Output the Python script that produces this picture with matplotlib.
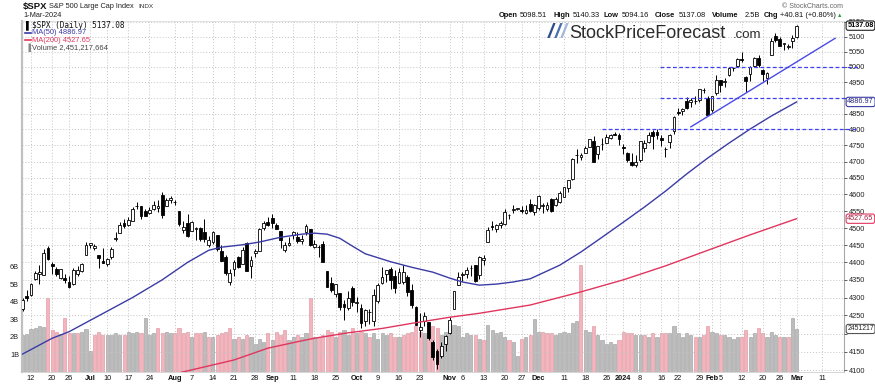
import numpy as np
import pandas as pd
import matplotlib
matplotlib.use('Agg')
import matplotlib.pyplot as plt
import matplotlib.transforms as mtransforms
from matplotlib.ticker import FixedLocator, NullLocator, FuncFormatter

plt.rcParams['font.family'] = ['Liberation Sans', 'DejaVu Sans']

# ---- data -------------------------------------------------------------
HOLIDAYS = ['2023-06-19', '2023-07-04', '2023-09-04', '2023-11-23',
            '2023-12-25', '2024-01-01', '2024-01-15', '2024-02-19']
FIRST_DAY, LAST_DAY = '2023-06-08', '2024-03-15'

opens = [4268.7, 4304.9, 4308.3, 4352.6, 4366.3, 4365.3, 4440.9, 4396.1, 4380.0, 4355.4,
         4354.2, 4344.8, 4337.4, 4367.5, 4374.9, 4422.4, 4450.5, 4442.0, 4422.6, 4404.5,
         4394.2, 4415.6, 4467.7, 4485.3, 4514.6, 4508.9, 4521.8, 4563.9, 4565.0, 4550.2,
         4543.4, 4555.2, 4558.0, 4598.3, 4565.8, 4584.8, 4578.8, 4550.9, 4494.3, 4514.0,
         4491.6, 4498.0, 4501.6, 4487.2, 4450.7, 4458.1, 4478.9, 4433.8, 4416.3, 4344.9,
         4380.3, 4415.3, 4396.4, 4455.2, 4389.4, 4426.0, 4432.8, 4500.3, 4517.0, 4530.6,
         4510.1, 4490.4, 4434.6, 4451.3, 4481.0, 4473.3, 4462.7, 4487.8, 4498.0, 4445.1,
         4445.4, 4452.8, 4374.4, 4341.7, 4310.6, 4312.9, 4282.6, 4269.7, 4328.2, 4284.5,
         4269.8, 4233.8, 4259.3, 4234.8, 4289.0, 4339.8, 4366.6, 4380.9, 4360.5, 4342.4,
         4345.2, 4357.4, 4321.4, 4273.9, 4210.4, 4235.8, 4232.4, 4176.0, 4152.9, 4139.4,
         4171.3, 4201.3, 4268.3, 4334.2, 4364.3, 4366.2, 4384.4, 4391.4, 4364.2, 4406.7,
         4459.0, 4505.3, 4497.1, 4509.6, 4511.7, 4538.8, 4553.0, 4555.8, 4554.9, 4545.6,
         4571.8, 4548.7, 4559.4, 4564.4, 4557.3, 4586.2, 4568.8, 4576.2, 4593.4, 4618.3,
         4646.2, 4721.0, 4714.2, 4725.6, 4743.7, 4764.7, 4724.3, 4753.9, 4758.9, 4773.5,
         4786.4, 4782.9, 4745.2, 4725.1, 4697.4, 4690.6, 4703.7, 4741.9, 4759.9, 4792.1,
         4791.2, 4772.4, 4739.1, 4760.1, 4796.3, 4853.4, 4856.8, 4888.6, 4886.7, 4888.9,
         4893.0, 4925.9, 4899.2, 4861.1, 4916.1, 4957.2, 4950.2, 4973.1, 4995.2, 5004.2,
         5026.8, 4967.9, 4976.4, 5003.1, 5031.1, 4989.3, 4963.0, 5038.8, 5100.9, 5093.0,
         5074.6, 5067.2, 5085.4, 5098.51]
highs = [4298.0, 4322.6, 4340.1, 4375.4, 4391.8, 4439.2, 4448.5, 4400.2, 4386.2, 4382.3,
         4366.6, 4362.1, 4384.4, 4390.4, 4398.4, 4458.5, 4456.5, 4454.1, 4422.6, 4440.4,
         4412.6, 4443.6, 4488.3, 4517.4, 4527.8, 4532.9, 4562.3, 4578.4, 4565.6, 4555.0,
         4563.4, 4580.6, 4582.5, 4607.1, 4590.2, 4594.2, 4584.6, 4550.9, 4519.5, 4540.3,
         4519.8, 4503.3, 4502.4, 4527.4, 4476.2, 4490.3, 4478.9, 4450.0, 4421.2, 4381.8,
         4407.6, 4418.6, 4443.2, 4458.3, 4418.5, 4439.6, 4500.1, 4521.7, 4532.3, 4541.3,
         4514.3, 4490.4, 4457.8, 4473.5, 4490.8, 4487.1, 4479.4, 4512.0, 4498.0, 4466.4,
         4449.9, 4461.0, 4375.7, 4357.4, 4338.5, 4313.0, 4292.1, 4317.3, 4333.2, 4300.6,
         4281.2, 4268.5, 4267.1, 4324.1, 4341.7, 4385.5, 4378.6, 4385.9, 4377.1, 4383.3,
         4393.6, 4364.2, 4339.5, 4276.6, 4255.8, 4259.4, 4232.4, 4183.6, 4156.7, 4177.5,
         4195.6, 4245.6, 4319.7, 4373.6, 4372.2, 4386.3, 4391.2, 4393.4, 4418.0, 4421.8,
         4503.4, 4521.2, 4512.0, 4520.1, 4557.1, 4542.1, 4568.4, 4560.3, 4564.4, 4568.1,
         4587.6, 4569.9, 4599.4, 4574.1, 4578.6, 4590.7, 4590.9, 4609.2, 4623.7, 4643.9,
         4709.7, 4738.6, 4725.5, 4749.5, 4768.7, 4778.0, 4748.7, 4772.9, 4784.7, 4785.4,
         4793.3, 4788.4, 4754.3, 4729.3, 4726.8, 4721.5, 4764.5, 4765.5, 4790.8, 4798.5,
         4802.4, 4782.3, 4744.2, 4785.8, 4842.1, 4868.4, 4866.5, 4903.7, 4898.2, 4906.7,
         4929.3, 4931.1, 4906.8, 4907.0, 4975.3, 4957.2, 4963.1, 4999.9, 5000.4, 5030.1,
         5048.4, 4971.3, 5002.5, 5032.7, 5038.7, 4993.7, 4983.2, 5094.4, 5111.1, 5097.7,
         5080.7, 5077.4, 5105.0, 5140.33]
lows = [4261.1, 4291.7, 4304.4, 4349.3, 4337.9, 4362.6, 4407.4, 4367.2, 4360.1, 4351.8,
        4341.3, 4328.1, 4335.0, 4360.2, 4372.0, 4422.4, 4442.3, 4436.6, 4385.1, 4397.4,
        4389.9, 4408.5, 4463.2, 4485.3, 4499.6, 4504.9, 4519.9, 4557.5, 4527.6, 4535.8,
        4541.3, 4552.4, 4547.6, 4528.6, 4564.0, 4573.1, 4567.5, 4505.8, 4485.5, 4474.6,
        4491.2, 4464.4, 4461.3, 4457.9, 4444.0, 4453.4, 4432.2, 4403.6, 4364.8, 4335.3,
        4360.3, 4382.8, 4396.4, 4375.6, 4356.3, 4415.0, 4431.7, 4493.6, 4507.4, 4501.4,
        4496.0, 4442.4, 4430.5, 4448.4, 4467.9, 4456.8, 4453.5, 4478.7, 4447.2, 4442.1,
        4416.6, 4401.4, 4329.2, 4316.5, 4302.7, 4266.0, 4238.6, 4264.4, 4274.9, 4260.2,
        4216.5, 4220.5, 4225.9, 4219.6, 4283.8, 4339.6, 4345.3, 4325.4, 4312.0, 4342.4,
        4337.5, 4303.8, 4269.7, 4223.0, 4189.2, 4219.4, 4181.4, 4127.9, 4103.8, 4132.9,
        4153.1, 4197.7, 4268.3, 4334.2, 4347.5, 4355.4, 4359.8, 4343.9, 4353.3, 4393.8,
        4459.0, 4495.3, 4487.8, 4499.7, 4510.4, 4525.5, 4545.1, 4552.8, 4545.1, 4540.5,
        4547.2, 4537.2, 4554.7, 4544.5, 4551.7, 4546.5, 4565.2, 4574.1, 4593.4, 4608.1,
        4643.2, 4694.3, 4704.7, 4725.6, 4743.7, 4697.8, 4708.4, 4736.8, 4758.5, 4768.9,
        4781.0, 4752.0, 4722.7, 4699.7, 4687.5, 4682.1, 4699.8, 4730.4, 4756.2, 4739.6,
        4769.0, 4747.1, 4714.8, 4740.6, 4785.9, 4844.1, 4844.4, 4865.9, 4869.3, 4881.5,
        4887.4, 4916.3, 4845.2, 4853.5, 4908.0, 4918.1, 4934.8, 4970.0, 4987.1, 5000.3,
        5016.8, 4920.3, 4955.0, 4999.4, 4999.5, 4955.0, 4946.0, 5038.8, 5081.5, 5068.9,
        5057.3, 5058.4, 5061.9, 5094.16]
closes = [4293.93, 4298.86, 4338.93, 4369.01, 4372.59, 4425.84, 4409.59, 4388.71, 4365.69, 4381.89,
          4348.33, 4328.82, 4378.41, 4376.86, 4396.44, 4450.38, 4455.59, 4446.82, 4411.59, 4398.95,
          4409.53, 4439.26, 4472.16, 4510.04, 4505.42, 4522.79, 4554.98, 4565.72, 4534.87, 4536.34,
          4554.64, 4567.46, 4566.75, 4537.41, 4582.23, 4588.96, 4576.73, 4513.39, 4501.89, 4478.03,
          4518.44, 4499.38, 4467.71, 4468.83, 4464.05, 4489.72, 4437.86, 4404.33, 4370.36, 4369.71,
          4399.77, 4387.55, 4436.01, 4376.31, 4405.71, 4433.31, 4497.63, 4514.87, 4507.66, 4515.77,
          4496.83, 4465.48, 4451.14, 4457.49, 4487.46, 4461.90, 4467.44, 4505.10, 4450.32, 4453.53,
          4443.95, 4402.20, 4330.00, 4320.06, 4337.44, 4273.53, 4274.51, 4299.70, 4288.05, 4288.39,
          4229.45, 4263.75, 4258.19, 4308.50, 4335.66, 4358.24, 4376.95, 4349.61, 4327.78, 4373.63,
          4373.20, 4314.60, 4278.00, 4224.16, 4217.04, 4247.68, 4186.77, 4137.23, 4117.37, 4166.82,
          4193.80, 4237.86, 4317.78, 4358.34, 4365.98, 4378.38, 4382.78, 4347.35, 4415.24, 4411.55,
          4495.70, 4502.88, 4508.24, 4514.02, 4547.38, 4538.19, 4556.62, 4559.34, 4550.43, 4554.89,
          4550.58, 4567.80, 4594.63, 4569.78, 4567.18, 4549.34, 4585.59, 4604.37, 4622.44, 4643.70,
          4707.09, 4719.55, 4719.19, 4740.56, 4768.37, 4698.35, 4746.75, 4754.63, 4774.75, 4781.58,
          4783.35, 4769.83, 4742.83, 4704.81, 4688.68, 4697.24, 4763.54, 4756.50, 4783.45, 4780.24,
          4783.83, 4765.98, 4739.21, 4780.94, 4839.81, 4850.43, 4864.60, 4868.55, 4894.16, 4890.97,
          4927.93, 4924.97, 4845.65, 4906.19, 4958.61, 4942.81, 4954.23, 4995.06, 4997.91, 5026.61,
          5021.84, 4953.17, 5000.62, 5029.73, 5005.57, 4975.51, 4981.80, 5087.03, 5088.80, 5069.53,
          5078.18, 5069.76, 5096.27, 5137.08]
# volume in billions
volumes = [2.10, 2.16, 2.44, 2.52, 2.61, 2.57, 4.19, 2.39, 2.29, 2.16,
           3.05, 2.24, 2.24, 2.20, 2.30, 2.45, 1.17, 2.10, 2.25, 2.10,
           2.10, 2.10, 2.20, 2.10, 2.10, 2.30, 2.20, 2.30, 2.20, 3.10,
           2.10, 2.20, 2.50, 2.20, 2.30, 2.20, 2.20, 2.50, 2.20, 2.30,
           2.00, 2.20, 2.20, 2.30, 2.00, 2.00, 2.10, 2.20, 2.30, 2.50,
           1.90, 2.00, 1.90, 2.10, 2.00, 1.60, 1.90, 1.70, 2.20, 1.80,
           2.30, 2.10, 2.40, 1.80, 2.00, 2.10, 2.00, 2.20, 4.24, 2.00,
           2.00, 2.10, 2.40, 2.30, 2.00, 2.30, 2.40, 2.10, 2.50, 2.20,
           2.30, 2.20, 2.00, 2.20, 1.90, 2.20, 2.10, 2.20, 2.00, 2.00,
           2.10, 2.20, 2.30, 2.60, 2.30, 2.20, 2.30, 2.60, 2.50, 2.10,
           2.30, 2.50, 2.70, 2.60, 2.00, 2.20, 2.10, 2.10, 1.90, 1.80,
           2.70, 2.40, 2.20, 2.30, 2.00, 1.80, 1.70, 0.90, 1.90, 2.00,
           2.10, 3.00, 2.30, 2.30, 2.20, 2.20, 2.10, 2.20, 2.30, 2.20,
           2.80, 2.90, 6.10, 2.40, 2.30, 2.60, 2.10, 1.80, 1.60, 1.70,
           1.60, 1.80, 2.30, 2.20, 2.20, 2.10, 2.10, 2.10, 2.00, 2.20,
           2.00, 2.20, 2.20, 2.20, 2.60, 2.20, 2.00, 2.20, 2.10, 2.00,
           2.00, 2.10, 2.60, 2.30, 2.20, 2.10, 2.10, 2.00, 1.90, 2.00,
           2.00, 2.40, 2.00, 2.20, 2.50, 2.20, 2.00, 2.30, 2.10, 2.00,
           2.00, 2.00, 3.10, 2.45]
prev_close = 4267.52

# moving averages (session number counted from first bar)
ma50_day = [0, 7, 11, 18, 26, 33, 39, 44, 47, 52, 56, 61, 66, 69, 72, 75, 78, 81, 87, 92, 97,
            101, 104, 108, 112, 116, 120, 127, 132, 137, 142, 147, 152, 157, 162, 167, 172, 177, 183]
ma50_val = [4144, 4187, 4205, 4249, 4300, 4350, 4400, 4435, 4444, 4451, 4459, 4473, 4482, 4485,
            4482, 4470, 4447, 4425, 4402, 4386, 4372, 4355, 4344, 4335, 4338, 4344, 4353, 4392, 4430,
            4473, 4517, 4562, 4610, 4662, 4711, 4757, 4801, 4842, 4886.97]
ma200_day = [35, 50, 58, 66, 69, 77, 85, 92, 101, 108, 120, 132, 142, 152, 162, 172, 183]
ma200_val = [4088, 4128, 4160, 4180, 4187, 4202, 4214, 4228, 4245, 4256, 4279, 4316, 4350,
             4390, 4435, 4480, 4527.65]

# drawn annotations: support levels and the rising trend line
level_prices = [5000, 4900, 4800]
level_start = [150.7, 150.7, 137.0]
level_end = 197.5
trend_day = [158.0, 192.1]
trend_val = [4808, 5094.7]

tick_dates = ['2023-06-12', '2023-06-20', '2023-06-26', '2023-07-03', '2023-07-10', '2023-07-17',
              '2023-07-24', '2023-08-01', '2023-08-07', '2023-08-14', '2023-08-21', '2023-08-28',
              '2023-09-01', '2023-09-11', '2023-09-18', '2023-09-25', '2023-10-02', '2023-10-09',
              '2023-10-16', '2023-10-23', '2023-11-01', '2023-11-06', '2023-11-13', '2023-11-20',
              '2023-11-27', '2023-12-01', '2023-12-11', '2023-12-18', '2023-12-26', '2024-01-02',
              '2024-01-08', '2024-01-16', '2024-01-22', '2024-01-29', '2024-02-01', '2024-02-05',
              '2024-02-12', '2024-02-20', '2024-02-26', '2024-03-01', '2024-03-11']
tick_labels = ['12', '20', '26', 'Jul', '10', '17', '24', 'Aug', '7', '14', '21', '28',
               'Sep', '11', '18', '25', 'Oct', '9', '16', '23', 'Nov', '6', '13', '20', '27',
               'Dec', '11', '18', '26', '2024', '8', '16', '22', '29', 'Feb', '5', '12', '20',
               '26', 'Mar', '11']
price_ticks = list(range(4100, 5151, 50))
hidden_price_labels = [4900, 4200]   # covered by the value tags
vol_ticks = [1, 2, 3, 4, 5, 6]

# ---- figure -----------------------------------------------------------
W, H = 875, 385
def fx(px): return px / W
def fy(py): return 1 - py / H

sessions = pd.bdate_range(FIRST_DAY, LAST_DAY, freq='C', holidays=HOLIDAYS)
tick_pos = [sessions.get_loc(pd.Timestamp(d)) for d in tick_dates]

o = np.array(opens); h = np.array(highs); l = np.array(lows); c = np.array(closes)
v = np.array(volumes) * 1e9
x = np.arange(len(c))

fig = plt.figure(figsize=(W / 100, H / 100), dpi=100)
L, R, T, B = 22, 844, 20.7, 372
ax_vol = fig.add_axes([fx(L), fy(B), (R - L) / W, (B - T) / H])
ax = ax_vol.twinx()
ax.patch.set_visible(False)

# volume bars
pc = np.concatenate([[prev_close], c[:-1]])
up = c >= pc
vfill = np.where(up, '#bcbcbc', '#f3b4bd')
vedge = np.where(up, '#9a9a9a', '#e08c99')
ax_vol.bar(x, v, width=0.74, color=vfill, edgecolor=vedge, linewidth=0.4, zorder=2)
ax_vol.set_ylim(0, 20e9)
ax_vol.set_xlim(-0.13, 194.2)

# candles
ax.set_yscale('log')
ax.set_ylim(4095.6, 5153.7)
ax.vlines(x, l, h, color='black', lw=0.7, zorder=3)
body_lo = np.minimum(o, c)
body_h = np.maximum(np.abs(c - o), 0.8)
body_fc = np.where(c >= o, 'white', 'black')
ax.bar(x, body_h, bottom=body_lo, width=0.66, color=body_fc, edgecolor='black',
       linewidth=0.6, zorder=4)

# moving averages
ax.plot(ma50_day, ma50_val, color='#3b3ba6', lw=1.0, zorder=5)
ax.plot(ma200_day, ma200_val, color='#e0365e', lw=1.0, zorder=5)

# support levels / trend line
for p, s in zip(level_prices, level_start):
    ax.plot([s, level_end], [p, p], color='#3f3ff0', lw=0.9, ls=(0, (3, 2)),
            zorder=6, clip_on=False)
ax.plot(trend_day, trend_val, color='#4a4ae8', lw=1.0, zorder=6)

# axes styling
ax_vol.set_xticks(tick_pos)
ax_vol.set_xticklabels(tick_labels)
for t, lab in zip(ax_vol.get_xticklabels(), tick_labels):
    t.set_fontweight('bold' if (lab.isalpha() or lab == '2024') else 'normal')
ax_vol.tick_params(axis='x', length=0, pad=2.5, labelsize=5.3, colors='#111')
ax_vol.grid(True, axis='x', ls=(0, (1, 2)), color='#c4c4c4', lw=0.7)
ax_vol.set_yticks([t * 1e9 for t in vol_ticks])
ax_vol.set_yticklabels([f'{t}B' for t in vol_ticks])
ax_vol.tick_params(axis='y', length=0, pad=2, labelsize=5.3, colors='#222')

ax.yaxis.set_major_locator(FixedLocator(price_ticks))
ax.yaxis.set_minor_locator(NullLocator())
ax.yaxis.set_major_formatter(FuncFormatter(
    lambda val, pos: '' if round(val) in hidden_price_labels else f'{val:.0f}'))
ax.tick_params(axis='y', which='both', length=2, pad=1.5, labelsize=5.3, colors='#222',
               width=0.5)
ax.grid(True, axis='y', which='major', ls=(0, (1, 2)), color='#c4c4c4', lw=0.7)
ax.set_axisbelow(True)

for a in (ax, ax_vol):
    for s in a.spines.values():
        s.set_visible(False)
ax_vol.spines['left'].set_visible(True)
ax_vol.spines['left'].set_color('#c0c0c0')
ax_vol.spines['left'].set_linewidth(1.6)
ax_vol.spines['right'].set_visible(True)
ax_vol.spines['right'].set_color('#a8a8a8')
ax_vol.spines['right'].set_linewidth(0.8)
ax_vol.spines['top'].set_visible(True)
ax_vol.spines['top'].set_color('#dddddd')
ax_vol.spines['top'].set_linewidth(0.6)
ax_vol.spines['bottom'].set_visible(True)
ax_vol.spines['bottom'].set_color('#cfcfcf')
ax_vol.spines['bottom'].set_linewidth(0.6)

# value tags on the right
tr_price = mtransforms.blended_transform_factory(ax.transAxes, ax.transData)
tr_vol = mtransforms.blended_transform_factory(ax.transAxes, ax_vol.transData)
tags = [(closes[-1], '%.2f' % closes[-1], tr_price, '#222222', '#000000', 'bold', 5.2),
        (ma50_val[-1], '%.2f' % ma50_val[-1], tr_price, '#3b3ba6', '#2a2a80', 'normal', 5.2),
        (ma200_val[-1], '%.2f' % ma200_val[-1], tr_price, '#e0365e', '#a01d3d', 'normal', 5.2),
        (2.451217e9, '2451217', tr_vol, '#555555', '#222222', 'normal', 4.9)]
for val, txt, tr, ec, tc, fw, fs in tags:
    ax.text(1.004, val, txt, transform=tr, ha='left', va='center', fontsize=fs,
            color=tc, fontweight=fw, zorder=20, clip_on=False,
            bbox=dict(boxstyle='round,pad=0.16,rounding_size=0.3', fc='white', ec=ec, lw=0.8))

# in-chart legend
fig.text(fx(26), fy(25), '\u258c', fontsize=5.5, color='black', va='center')
fig.text(fx(32), fy(25), '$SPX (Daily) 5137.08', fontsize=5.6, family='DejaVu Sans Mono',
         va='center', color='#111')
fig.lines.append(plt.Line2D([fx(25), fx(31)], [fy(32.7), fy(32.7)], color='#3b3ba6', lw=1.2,
                            transform=fig.transFigure))
fig.text(fx(32), fy(32.7), 'MA(50) 4886.97', fontsize=5.4, va='center', color='#3b3ba6')
fig.lines.append(plt.Line2D([fx(25), fx(31)], [fy(40.3), fy(40.3)], color='#e0365e', lw=1.2,
                            transform=fig.transFigure))
fig.text(fx(32), fy(40.3), 'MA(200) 4527.65', fontsize=5.4, va='center', color='#e0365e')
fig.text(fx(25), fy(47.3), '\u2590', fontsize=5.0, color='#888888', va='center')
fig.text(fx(32), fy(47.3), 'Volume 2,451,217,664', fontsize=5.4, va='center', color='#444')

# header
fig.text(fx(23), fy(6.5), '$SPX', fontsize=6.8, fontweight='bold', va='center', color='#111')
fig.text(fx(49), fy(6.5), 'S&P 500 Large Cap Index', fontsize=5.3, va='center', color='#222')
fig.text(fx(138), fy(6.5), 'INDX', fontsize=4.6, va='center', color='#333')
fig.text(fx(23), fy(15.5), '1-Mar-2024', fontsize=5.3, va='center', color='#222')
fig.text(fx(843), fy(6), '\u00a9 StockCharts.com', fontsize=5.0, va='center', ha='right',
         color='#666')
header = [(499, 'Open', 'bold'), (520, '5098.51', 'normal'), (553, 'High', 'bold'),
          (573, '5140.33', 'normal'), (604, 'Low', 'bold'), (622, '5094.16', 'normal'),
          (655, 'Close', 'bold'), (679, '5137.08', 'normal'), (712, 'Volume', 'bold'),
          (745, '2.5B', 'normal'), (764, 'Chg', 'bold'), (780, '+40.81 (+0.80%)', 'normal')]
for px, txt, fw in header:
    fig.text(fx(px), fy(15.7), txt, fontsize=5.4, fontweight=fw, va='center', color='#111')
fig.text(fx(837), fy(15.7), '\u25b2', fontsize=4, va='center', color='#2e9a3e')

# watermark
for k, col in enumerate(['#2f4d8c', '#4d6fb0', '#a5b8dc']):
    fig.text(fx(548 + k * 6.5), fy(33), '/', fontsize=15, fontweight='bold', style='italic',
             va='center', color=col)
fig.text(fx(569), fy(33), 'StockPriceForecast', fontsize=13.0, va='center', color='#2b2b2b')
fig.text(fx(733), fy(35.5), '.com', fontsize=9.5, va='center', color='#2b2b2b')

fig.savefig('out.png', dpi=100)
